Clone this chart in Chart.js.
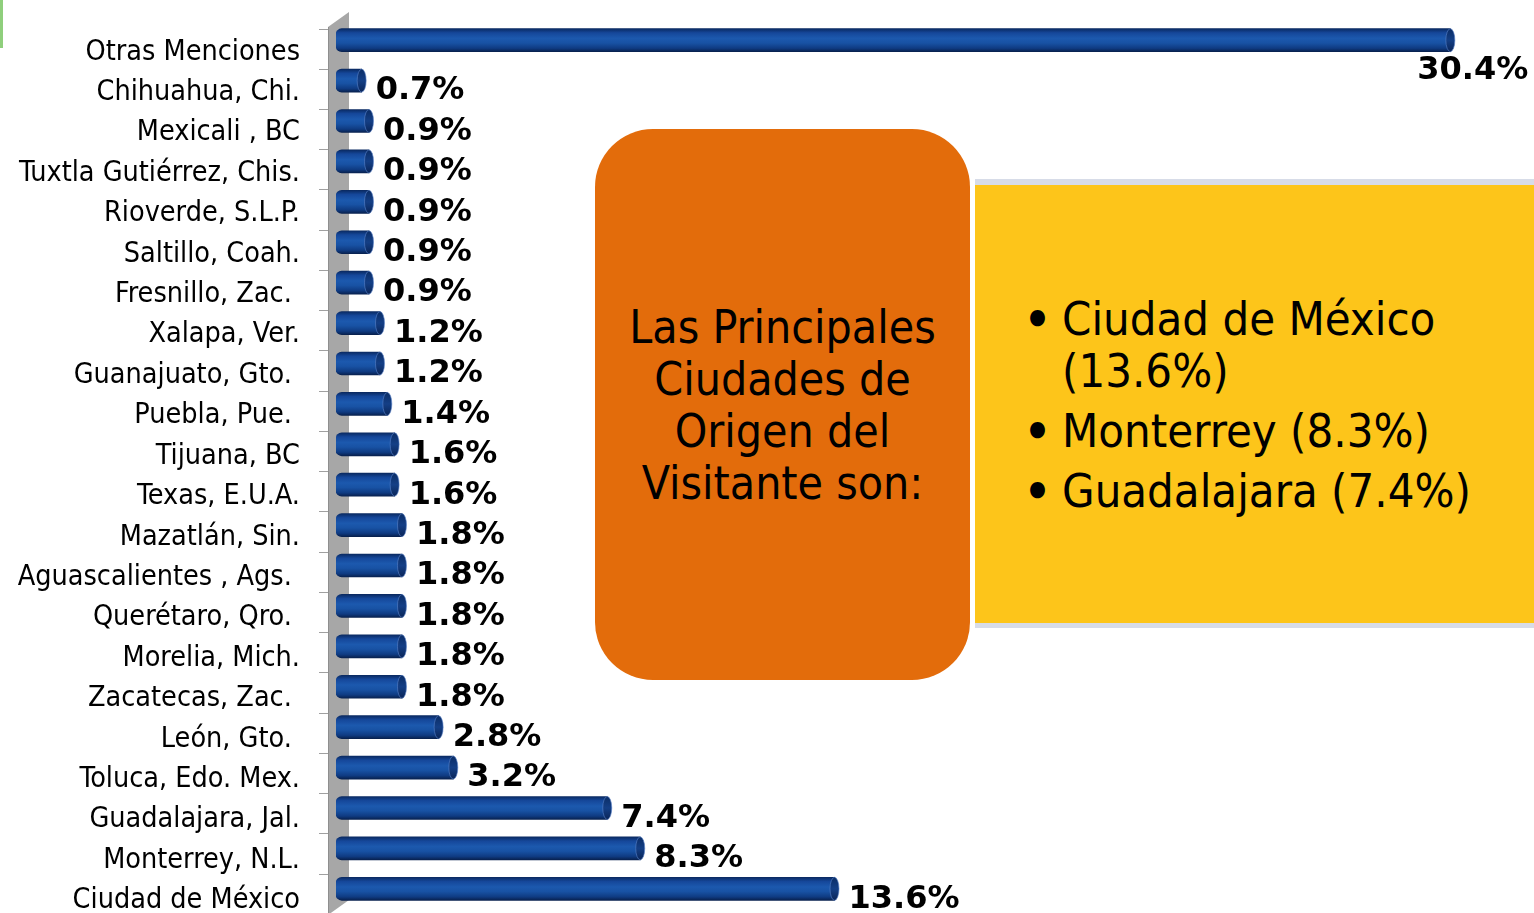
<!DOCTYPE html>
<html>
<head>
<meta charset="utf-8">
<script src="https://cdn.jsdelivr.net/npm/chart.js@4/dist/chart.umd.min.js"></script>
<style>
  html, body { margin:0; padding:0; background:#fff; width:1534px; height:913px; overflow:hidden; }
  #wrap { position:absolute; left:0; top:0; width:1534px; height:913px; }
  #green { position:absolute; left:0; top:0; width:3px; height:48px; background:#8fcf7c; }
  #orange { position:absolute; left:595px; top:129px; width:375px; height:551px; border-radius:58px;
            background:#e36c0b; display:flex; align-items:center; justify-content:center; text-align:center;
            font-family:'DejaVu Sans Condensed','DejaVu Sans',sans-serif; font-stretch:condensed; font-size:46px; line-height:52px; color:#000; }
  #yellow { position:absolute; left:975px; top:179px; width:559px; height:438px; background:#fdc51a;
            border-top:6px solid #d7dce8; border-bottom:5px solid #d7dce8; box-sizing:content-box; }
  #list { position:absolute; left:1028px; top:293px; width:500px;
          font-family:'DejaVu Sans Condensed','DejaVu Sans',sans-serif; font-stretch:condensed; font-size:46.8px; line-height:52px; color:#000; }
  .item { position:relative; padding-left:34px; margin-bottom:8px; }
  .item .b { position:absolute; left:-4px; top:0; font-weight:bold; }
</style>
</head>
<body>
<div id="wrap">
  <canvas id="c" width="1534" height="913"></canvas>
</div>
<div id="green"></div>
<div id="orange"><div>Las Principales<br>Ciudades de<br>Origen del<br>Visitante son:</div></div>
<div id="yellow"></div>
<div id="list"></div>
<script>
const categories = [
  "Otras Menciones", "Chihuahua, Chi.", "Mexicali , BC", "Tuxtla Gutiérrez, Chis.", "Rioverde, S.L.P.",
  "Saltillo, Coah.", "Fresnillo, Zac. ", "Xalapa, Ver.", "Guanajuato, Gto. ", "Puebla, Pue. ",
  "Tijuana, BC", "Texas, E.U.A.", "Mazatlán, Sin.", "Aguascalientes , Ags. ", "Querétaro, Qro. ",
  "Morelia, Mich.", "Zacatecas, Zac. ", "León, Gto. ", "Toluca, Edo. Mex.", "Guadalajara, Jal.",
  "Monterrey, N.L.", "Ciudad de México"
];
const values = [30.4, 0.7, 0.9, 0.9, 0.9, 0.9, 0.9, 1.2, 1.2, 1.4, 1.6, 1.6, 1.8, 1.8, 1.8, 1.8, 1.8, 2.8, 3.2, 7.4, 8.3, 13.6];
const valueLabels = values.map(v => v.toFixed(1) + "%");
const highlights = ["Ciudad de México (13.6%)", "Monterrey (8.3%)", "Guadalajara (7.4%)"];

const list = document.getElementById('list');
highlights.forEach(t => {
  const d = document.createElement('div');
  d.className = 'item';
  const b = document.createElement('span'); b.className = 'b'; b.textContent = '•';
  d.appendChild(b);
  d.appendChild(document.createTextNode(t));
  list.appendChild(d);
});

const BAR_H = 23;
const LABEL_DROP = 12;
const VALUE_DROP = 10.5;

function barGradient(ctx, y) {
  const g = ctx.createLinearGradient(0, y - BAR_H/2, 0, y + BAR_H/2);
  g.addColorStop(0, '#0a2a62');
  g.addColorStop(0.18, '#15479a');
  g.addColorStop(0.42, '#1c59ae');
  g.addColorStop(0.62, '#1852a4');
  g.addColorStop(0.85, '#0f3b82');
  g.addColorStop(1, '#08214f');
  return g;
}

const wallPlugin = {
  id: 'wall',
  beforeDatasetsDraw(chart) {
    const ctx = chart.ctx;
    const ys = chart.scales.y;
    const ca = chart.chartArea;
    const band = ys.height / categories.length;
    const x0 = ca.left - 8, x1 = ca.left + 13, dy = 15;
    const top = ys.getPixelForValue(0) - band / 2 - 8;
    ctx.save();
    ctx.beginPath();
    ctx.moveTo(x0, top + dy);
    ctx.lineTo(x1, top);
    ctx.lineTo(x1, chart.height - 13);
    ctx.lineTo(x0, chart.height + 2);
    ctx.closePath();
    ctx.fillStyle = '#a7a7a7';
    ctx.fill();
    ctx.strokeStyle = '#8e8e8e';
    ctx.lineWidth = 1;
    ctx.beginPath();
    ctx.moveTo(x0 + 0.5, top + dy);
    ctx.lineTo(x0 + 0.5, chart.height + 2);
    ctx.stroke();
    ctx.strokeStyle = '#a0a0a0';
    for (let k = 0; k <= categories.length; k++) {
      const y = Math.round(ys.getPixelForValue(0) - band / 2 + 8.5 + k * band * 0.996) + 0.5;
      ctx.beginPath();
      ctx.moveTo(x0 - 9, y);
      ctx.lineTo(x0, y);
      ctx.stroke();
    }
    ctx.restore();
  }
};

const capPlugin = {
  id: 'caps',
  afterDatasetsDraw(chart) {
    const ctx = chart.ctx;
    const meta = chart.getDatasetMeta(0);
    ctx.save();
    meta.data.forEach((el, i) => {
      const x = el.x, y = el.y, h = BAR_H / 2;
      ctx.beginPath();
      ctx.ellipse(x, y, 4.5, h, 0, 0, Math.PI * 2);
      const g = ctx.createLinearGradient(0, y - h, 0, y + h);
      g.addColorStop(0, '#0b2d66');
      g.addColorStop(0.5, '#143f86');
      g.addColorStop(1, '#0a2558');
      ctx.fillStyle = g;
      ctx.fill();
      ctx.strokeStyle = 'rgba(90,130,200,0.6)';
      ctx.lineWidth = 1;
      ctx.stroke();
      ctx.fillStyle = '#000';
      ctx.font = "bold 32px 'DejaVu Sans', sans-serif";
      ctx.textBaseline = 'middle';
      if (i === 0) {
        ctx.textAlign = 'right';
        ctx.fillText(valueLabels[i], x + 78, y + 30);
      } else {
        ctx.textAlign = 'left';
        ctx.fillText(valueLabels[i], x + 14, y + VALUE_DROP);
      }
    });
    ctx.restore();
  }
};

new Chart(document.getElementById('c'), {
  type: 'bar',
  data: {
    labels: categories,
    datasets: [{
      data: values,
      barThickness: BAR_H,
      borderSkipped: false,
      borderRadius: { topLeft: 6, bottomLeft: 6, topRight: 0, bottomRight: 0 },
      backgroundColor: (c) => {
        const chart = c.chart;
        if (!chart.chartArea || c.dataIndex === undefined) return '#1a54a6';
        const y = chart.scales.y.getPixelForValue(c.dataIndex);
        return barGradient(chart.ctx, y);
      },
      borderWidth: 0
    }]
  },
  options: {
    indexAxis: 'y',
    responsive: false,
    animation: false,
    devicePixelRatio: 1,
    layout: { padding: { top: 20, bottom: 4, right: 25, left: 0 } },
    plugins: { legend: { display: false }, tooltip: { enabled: false } },
    scales: {
      x: { display: false, min: 0, max: 32 },
      y: {
        grid: { display: false, drawTicks: false },
        border: { display: false },
        afterFit(scale) { scale.width = 336; scale.paddingTop = 0; scale.paddingBottom = 0; },
        ticks: {
          padding: 36,
          labelOffset: LABEL_DROP,
          color: '#000',
          font: { family: "'DejaVu Sans Condensed', 'DejaVu Sans', sans-serif", size: 28.5 },
          autoSkip: false
        }
      }
    }
  },
  plugins: [wallPlugin, capPlugin]
});
</script>
</body>
</html>
